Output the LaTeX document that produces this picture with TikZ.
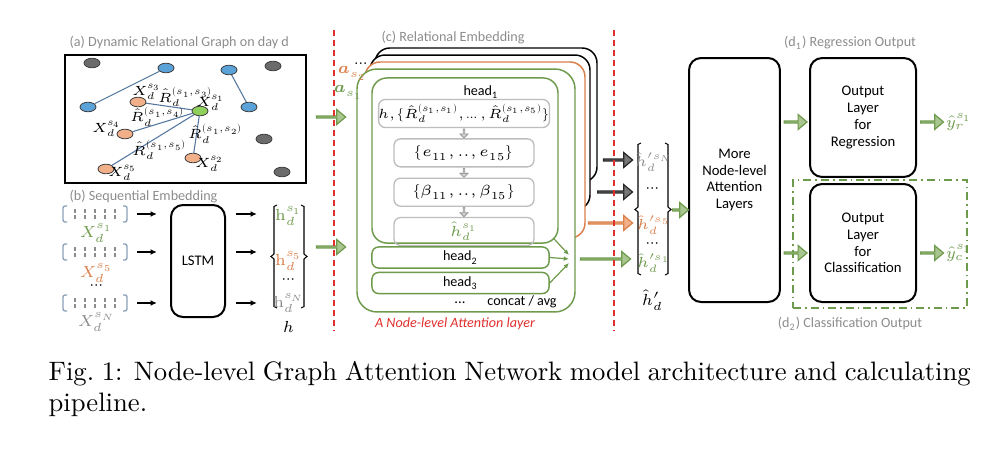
\documentclass[tikz,border=0pt]{standalone}
\usepackage{amsmath}
\usepackage{fontspec}
\usepackage{unicode-math}
\setmathfont{Latin Modern Math}
\newfontfamily\diagfont{Carlito}
\DeclareMathSizes{5}{5}{3.7}{3}
\DeclareMathSizes{5.5}{5.5}{4}{3.2}
\DeclareMathSizes{6}{6}{4.4}{3.4}
\usetikzlibrary{positioning, calc, shapes.geometric, shapes.arrows, arrows.meta}

\definecolor{gatgreen}{HTML}{6E9A4C}
\definecolor{gatgreenfill}{HTML}{A9C590}
\definecolor{gatorange}{HTML}{D9804A}
\definecolor{gatorangefill}{HTML}{F2B08A}
\definecolor{gatgray}{HTML}{8C8C8C}
\definecolor{gatdark}{HTML}{6B6B6B}
\definecolor{gatarrowgray}{HTML}{767676}
\definecolor{gatblue}{HTML}{5AA2D8}
\definecolor{gatedge}{HTML}{5477A0}
\definecolor{gatred}{HTML}{E0302E}
\definecolor{gatlight}{HTML}{BDBDBD}
\definecolor{gatnode}{HTML}{8FD05A}
\definecolor{gatbracket}{HTML}{8AA0B8}

\begin{document}
\begin{tikzpicture}[x=0.375pt, y=-0.375pt, line width=0.5pt,
    font=\diagfont\fontsize{5.5}{6.3}\selectfont,
    title/.style={text=gatgray, inner sep=0pt, font=\diagfont\fontsize{5.3}{6}\selectfont},
    mathlbl/.style={inner sep=0pt, font=\fontsize{6}{7}\selectfont},
    graphlbl/.style={inner sep=0pt, font=\fontsize{5}{6}\selectfont},
    gnode/.style={ellipse, draw=black!75, line width=0.3pt, minimum width=6pt, minimum height=3.6pt, inner sep=0pt},
    gedge/.style={draw=gatedge, line width=0.4pt},
    blockbox/.style={draw, rounded corners=4.5pt, line width=0.75pt, align=center, inner sep=0pt},
    frame/.style={rectangle, fill=white, rounded corners=5.6pt, line width=0.55pt, inner sep=0pt},
    calcbox/.style={draw=gatlight, rounded corners=2.5pt, line width=0.5pt, minimum width=52.5pt, minimum height=10.5pt, inner sep=0pt, font=\fontsize{5.5}{6}\selectfont},
    headbox/.style={draw=gatgreen, rounded corners=2.5pt, line width=0.55pt, minimum width=66.4pt, minimum height=7.9pt, inner sep=0pt, font=\diagfont\fontsize{5.3}{6}\selectfont},
    fatarrow/.style={single arrow, draw=gatgreen, fill=gatgreenfill, line width=0.45pt, inner sep=0pt, minimum width=5.6pt, single arrow head extend=1.5pt, single arrow head indent=0pt, single arrow tip angle=80, minimum height=#1},
    fatarrow/.default=10pt,
    downarrow/.style={single arrow, shape border rotate=270, draw=gatlight!80!black, fill=gatlight!70, line width=0.3pt, inner sep=0pt, minimum width=3pt, single arrow head extend=0.75pt, single arrow head indent=0pt, minimum height=3.4pt},
    blkarrow/.style={line width=0.55pt, -{Latex[length=2.4pt,width=2.2pt]}},
    thinarrow/.style={draw=gatgreen, line width=0.45pt, -{Latex[length=2pt,width=1.8pt]}},
    cutline/.style={draw=gatred, line width=0.55pt, dash pattern=on 2.25pt off 1.5pt}]

\useasboundingbox (0,0) rectangle (1008,450);

\node[title, anchor=west] (atitle) at (69,42) {(a) Dynamic Relational Graph on day d};
\node[draw, line width=0.8pt, minimum width=90.4pt, minimum height=48pt, inner sep=0pt] (graphbox) at (185.5,119) {};
\node[gnode, fill=gatdark] (g1) at (92,63) {};
\node[gnode, fill=gatblue] (b1) at (166,68) {};
\node[gnode, fill=gatblue] (b2) at (229,70) {};
\node[gnode, fill=gatdark] (g2) at (273,66) {};
\node[gnode, fill=gatblue] (b3) at (88,107) {};
\node[gnode, fill=gatorangefill] (s3) at (138,102) {};
\node[gnode, fill=gatnode] (s1) at (200,111) {};
\node[gnode, fill=gatblue] (b4) at (249,107) {};
\node[gnode, fill=gatorangefill] (s4) at (125,134) {};
\node[gnode, fill=gatdark] (g3) at (264,139) {};
\node[gnode, fill=gatorangefill] (s2) at (193,158) {};
\node[gnode, fill=gatorangefill] (s5) at (106,169) {};
\node[gnode, fill=gatdark] (g4) at (282,172) {};
\draw[gedge] (b1) -- (b3) (b2) -- (b4) (s1) -- (s3) (s1) -- (s4) (s1) -- (s5) (s1) -- (s2);
\node[graphlbl] (xs3) at (147,92) {$X_d^{s_3}$};
\node[graphlbl] (r13) at (186,97) {$\hat{R}_d^{(s_1,s_3)}$};
\node[graphlbl] (xs1) at (211,103) {$X_d^{s_1}$};
\node[graphlbl] (r14) at (158,117) {$\hat{R}_d^{(s_1,s_4)}$};
\node[graphlbl] (xs4) at (107,129) {$X_d^{s_4}$};
\node[graphlbl] (r12) at (216,134) {$\hat{R}_d^{(s_1,s_2)}$};
\node[graphlbl] (r15) at (160,150) {$\hat{R}_d^{(s_1,s_5)}$};
\node[graphlbl] (xs2) at (210,164) {$X_d^{s_2}$};
\node[graphlbl] (xs5) at (123,173) {$X_d^{s_5}$};

\node[title, anchor=west] (btitle) at (69,197) {(b) Sequential Embedding};
\foreach \y/\n in {214/1, 252/2, 303/3}{
    \draw[gatbracket, rounded corners=0.8pt] (67,\y-8) -- (63,\y-8) -- (63,\y+8) -- (67,\y+8);
    \draw[gatbracket, rounded corners=0.8pt] (123,\y-8) -- (127,\y-8) -- (127,\y+8) -- (123,\y+8);
    \foreach \x in {75,85,95,105,115}
        \draw[gatgray, line width=0.4pt] (\x,\y-5) -- (\x,\y-1) (\x,\y+1) -- (\x,\y+5);
    \coordinate (v\n) at (127,\y);
}
\node[mathlbl, text=gatgreen] (vs1) at (97,233) {$X_d^{s_1}$};
\node[mathlbl, text=gatorange] (vs5) at (97,273) {$X_d^{s_5}$};
\node[mathlbl] (vdots) at (97,287) {$\cdots$};
\node[mathlbl, text=gatgray] (vsN) at (97,322) {$X_d^{s_N}$};
\node[blockbox, minimum width=20.25pt, minimum height=42pt] (lstm) at (198,261) {LSTM};
\coordinate (hvec) at (274,256);
\foreach \n in {1,2,3}{
    \draw[blkarrow, shorten <=3.75pt, shorten >=4.9pt] (v\n) -- (lstm.west |- v\n);
    \draw[blkarrow, shorten <=3.75pt, shorten >=6.4pt] (lstm.east |- v\n) -- (hvec |- v\n);
}
\draw[line width=0.4pt] (277,205) -- (274,206.5) -- (274,254) -- (271,256.5) -- (274,259) -- (274,306.5) -- (277,308);
\draw[line width=0.4pt] (301,205) -- (304,206.5) -- (304,254) -- (307,256.5) -- (304,259) -- (304,306.5) -- (301,308);
\node[mathlbl, text=gatgreen] (hs1) at (289,216) {$\mathrm{h}_d^{s_1}$};
\node[mathlbl, text=gatorange] (hs5) at (289,261) {$\mathrm{h}_d^{s_5}$};
\node[mathlbl] (hdots) at (289,281) {$\cdots$};
\node[mathlbl, text=gatgray] (hsN) at (289,303) {$\mathrm{h}_d^{s_N}$};
\node[mathlbl] (hlbl) at (289,327) {$h$};

\node[fatarrow=10.9pt] (ina) at (330.5,117) {};
\node[fatarrow=10.9pt] (inb) at (330.5,247) {};

\node[title, anchor=west] (ctitle) at (381,38) {(c) Relational Embedding};
\node[frame, draw=black, minimum width=83.25pt, minimum height=50.25pt] (layerN) at (486,115) {};
\node[frame, draw=black, minimum width=82.5pt, minimum height=58.1pt] (layerk) at (480,132.5) {};
\node[frame, draw=gatorange, minimum width=82.5pt, minimum height=66pt] (layer2) at (475,150) {};
\node[frame, draw=gatgreen, rounded corners=7.5pt, minimum width=81.75pt, minimum height=91.1pt] (layer1) at (466,190.5) {};
\node[frame, draw=gatgreen, minimum width=69.75pt, minimum height=61.9pt] (head1) at (465,160.5) {};
\node[mathlbl] (ldots) at (363,64) {$\dots$};
\node[mathlbl, text=gatorange] (as2) at (353,73) {$\symbfit{a}_{s_2}$};
\node[mathlbl, text=gatgreen] (as1) at (349,92) {$\symbfit{a}_{s_1}$};
\node[inner sep=0pt, font=\diagfont\fontsize{5.3}{6}\selectfont] (h1title) at (481,92) {head\textsubscript{1}};
\node[calcbox, font=\fontsize{5}{6}\selectfont] (inp) at (464,113.5) {$h,\{\hat{R}_d^{(s_1,s_1)},\dots,\hat{R}_d^{(s_1,s_5)}\}$};
\node[calcbox, below=3.75pt of inp] (eij) {$\{e_{11},..,e_{15}\}$};
\node[calcbox, below=3.75pt of eij] (beta) {$\{\beta_{11},..,\beta_{15}\}$};
\node[calcbox, below=3.75pt of beta, text=gatgreen] (hhat) {$\hat{h}_d^{s_1}$};
\foreach \a/\b in {inp/eij, eij/beta, beta/hhat}
    \node[downarrow] at ($(\a.south)!0.5!(\b.north)$) {};
\node[headbox] (head2) at (460.5,257.5) {head\textsubscript{2}};
\node[headbox] (head3) at (460.5,283) {head\textsubscript{3}};
\node[inner sep=0pt] (headdots) at (460,303) {...};
\node[inner sep=0pt, font=\diagfont\fontsize{5.3}{6}\selectfont] (concat) at (522,302) {concat / avg};
\coordinate (merge) at (569,259);
\draw[thinarrow] ([xshift=-1.9pt,yshift=2pt]head1.south east) -- ([yshift=1.5pt]merge);
\draw[thinarrow] (head2.east) -- (merge);
\draw[thinarrow] (head3.east) -- ([yshift=-1.5pt]merge);
\node[text=gatred, inner sep=0pt, font=\diagfont\itshape\fontsize{5.3}{6}\selectfont] (nlayer) at (455,324) {A Node-level Attention layer};

\node[fatarrow=10.9pt, draw=black!85, fill=gatarrowgray] (outN) at (617.5,160) {};
\node[fatarrow=13.1pt, draw=black!85, fill=gatarrowgray] (outk) at (614.5,192) {};
\node[fatarrow=16.5pt, draw=gatorange, fill=gatorangefill] (out2) at (610,223) {};
\node[fatarrow=18.75pt] (out1) at (605,259) {};

\draw[line width=0.4pt] (641,143) -- (638,144.5) -- (638,207) -- (635,209.5) -- (638,212) -- (638,273.5) -- (641,275);
\draw[line width=0.4pt] (665,143) -- (668,144.5) -- (668,207) -- (671,209.5) -- (668,212) -- (668,273.5) -- (665,275);
\node[mathlbl, font=\fontsize{5.5}{6}\selectfont, text=gatgray] (hpN) at (654,162) {$\hat{h}_d^{\prime s_N}$};
\node[mathlbl] (hpdots1) at (653,190) {$\cdots$};
\node[mathlbl, font=\fontsize{5.5}{6}\selectfont, text=gatorange] (hp5) at (654,225) {$\hat{h}_d^{\prime s_5}$};
\node[mathlbl] (hpdots2) at (653,245) {$\cdots$};
\node[mathlbl, font=\fontsize{5.5}{6}\selectfont, text=gatgreen] (hp1) at (654,263) {$\hat{h}_d^{\prime s_1}$};
\node[mathlbl] (hplbl) at (653,300) {$\hat{h}_d'$};

\node[blockbox, minimum width=34.1pt, minimum height=91.5pt] (more) at (734.5,180) {More\\Node-level\\Attention\\Layers};
\node[fatarrow=6pt] (tomore) at (680,210) {};

\node[title] (d1title) at (850,43) {(d\textsubscript{1}) Regression Output};
\node[blockbox, minimum width=39.75pt, minimum height=44.6pt] (reg) at (863,117.5) {Output\\Layer\\for\\Regression};
\node[draw=gatgreen, line width=0.6pt, dash pattern=on 3pt off 1.5pt on 0.6pt off 1.5pt, minimum width=65.25pt, minimum height=48pt, inner sep=0pt] (clsframe) at (880,244) {};
\node[blockbox, minimum width=39.75pt, minimum height=44.25pt] (cls) at (863,243) {Output\\Layer\\for\\Classification};
\node[title] (d2title) at (850,324) {(d\textsubscript{2}) Classification Output};
\node[mathlbl, text=gatgreen, anchor=west] (yr) at (946,122) {$\hat{y}_r^{s_1}$};
\node[mathlbl, text=gatgreen, anchor=west] (yc) at (946,253) {$\hat{y}_c^{s_1}$};
\node[fatarrow=8.6pt] (toreg) at ($(more.east |- 0,122)!0.5!(reg.west |- 0,122)$) {};
\node[fatarrow=8.6pt] (tocls) at ($(more.east |- 0,253)!0.5!(cls.west |- 0,253)$) {};
\node[fatarrow=8.6pt] (fromreg) at ($(reg.east |- yr)!0.5!(yr.west)$) {};
\node[fatarrow=8.6pt] (fromcls) at ($(cls.east |- yc)!0.5!(yc.west)$) {};

\foreach \x in {334,614}
    \draw[cutline] (\x,30) -- (\x,331);

\node[anchor=north west, text width=345.8pt, align=justify, inner sep=0pt, font=\rmfamily\fontsize{10}{11.6}\selectfont] (caption) at (48,361) {Fig.~1: Node-level Graph Attention Network model architecture and calculating\linebreak pipeline.};
\end{tikzpicture}
\end{document}
